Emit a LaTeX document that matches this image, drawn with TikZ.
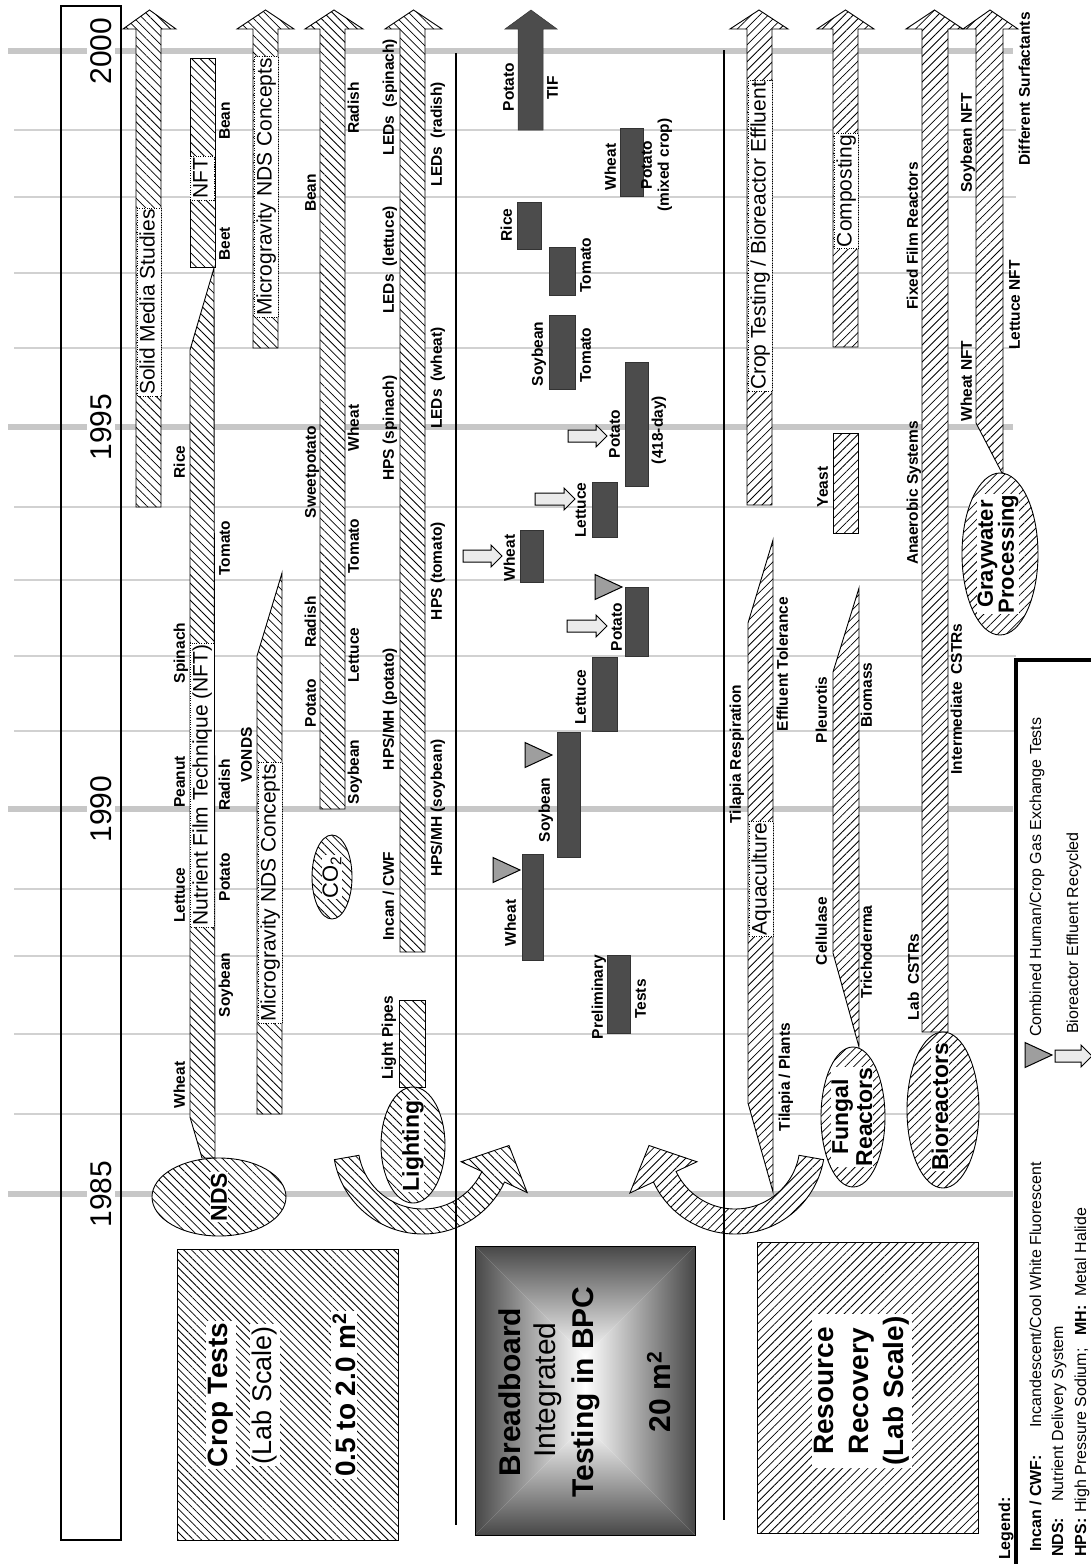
\documentclass[tikz,border=0pt]{standalone}
\usepackage{fontspec}
\setmainfont{Liberation Sans}
\usetikzlibrary{patterns.meta,shapes.geometric}
\tikzset{
  gl/.style={draw=black!18, line width=2pt},
  gy/.style={draw=black!22, line width=6pt},
  hb/.style={draw=black, line width=0.9pt, preaction={fill=white}, pattern={Lines[angle=-45,distance=6pt,line width=0.8pt]}},
  hf/.style={draw=black, line width=0.9pt, preaction={fill=white}, pattern={Lines[angle=45,distance=6pt,line width=0.8pt]}},
  dk/.style={fill=black!70, draw=black!80, line width=0.5pt},
  tri/.style={fill=black!38, draw=black, line width=1pt},
  eff/.style={fill=black!8, draw=black, line width=1pt},
  lab/.style={rotate=90, inner sep=0pt, font=\fontsize{15.5}{17}\selectfont\bfseries, text height=11pt, text depth=3.5pt},
  bt/.style={rotate=90, fill=white, draw=black, dotted, line width=0.4pt, inner sep=1.5pt, font=\fontsize{21}{24}\selectfont, text height=16pt, text depth=5pt},
  et/.style={rotate=90, fill=white, inner sep=0.5pt, align=center, font=\fontsize{23}{24}\selectfont\bfseries},
  yr/.style={rotate=90, fill=white, inner sep=3pt, font=\fontsize{30}{30}\selectfont, text height=21.5pt, text depth=0pt},
  bigtxt/.style={rotate=90, fill=white, inner sep=2pt},
  leg/.style={rotate=90, inner sep=0pt, anchor=west, font=\fontsize{16}{18}\selectfont, text height=11.5pt, text depth=3.5pt},
}
\newcommand\myUp[6]{\draw[#1] (#2,#4) -- (#2,29) -- (#5,29) -- ({(#5+#6)/2},10) -- (#6,29) -- (#3,29) -- (#3,#4) -- cycle;}
\newcommand\myEff[3]{\draw[eff] (#1,{#2-6}) -- ({#3-11},{#2-6}) -- ({#3-11},{#2-11}) -- (#3,#2) -- ({#3-11},{#2+11}) -- ({#3-11},{#2+6}) -- (#1,{#2+6}) -- cycle;}
\newcommand\myTri[2]{\draw[tri] (#1,{#2-12.5}) -- ({#1+27},#2) -- (#1,{#2+12.5}) -- cycle;}
\begin{document}
\begin{tikzpicture}[x=1pt,y=-1pt]
\useasboundingbox (0,0) rectangle (1091,1564);
% grid lines
\foreach \yy in {130,197,273,348,507,580,656,731,889,956,1034,1114} \draw[gl] (14,\yy) -- (1016,\yy);
\foreach \yy in {51,427,809,1194} \draw[gy] (8,\yy) -- (1013,\yy);
% header
\draw[line width=2pt] (61,6) rectangle (121,1540);
\node[yr] (y2000) at (101,51) {2000};
\node[yr] (y1995) at (101,427) {1995};
\node[yr] (y1990) at (101,809) {1990};
\node[yr] (y1985) at (101,1194) {1985};

% ---------- left block (crop tests) ----------
\myUp{hb}{136}{161}{507}{123}{176}
\node[bt] (sms) at (149,302) {Solid Media Studies};
\draw[hb] (190,58) rectangle (215,267);
\node[bt] (nftb) at (202,178) {NFT};
\draw[hb] (190,350) -- (214,268) -- (215,1158) -- (202,1158) -- (190,1117) -- cycle;
\node[bt] (nft) at (202,785) {Nutrient Film Technique (NFT)};
\myUp{hb}{253}{278}{348}{237}{294}
\node[bt] (mg1) at (266,187) {Microgravity NDS Concepts};
\draw[hb] (257,1114) -- (257,656) -- (282,573) -- (282,1114) -- cycle;
\node[bt] (mg2) at (270,893) {Microgravity NDS Concepts};
\myUp{hb}{320}{345}{809}{305}{363}
\myUp{hb}{400}{425}{952}{385}{442}
\draw[hb] (399,1000) rectangle (425,1087);
\node[hb, ellipse, minimum width=134pt, minimum height=78pt, inner sep=0pt] (nds) at (219,1197) {};
\node[et] (ndsT) at (219,1197) {NDS};
\node[hb, ellipse, minimum width=40pt, minimum height=84pt, inner sep=0pt] (co2) at (332,877) {};
\node[et, font=\fontsize{22}{24}\selectfont] (co2T) at (332,877) {CO\textsubscript{2}};
% left curved arrow
\path[hb] plot[domain=25:170, samples=50] ({423+90*cos(195-\x)},{1144+90*sin(195-\x)})
  -- ({423+115*cos(25)},{1144+115*sin(25)}) -- ({423+86*cos(1)},{1144+86*sin(1)})
  -- ({423+42*cos(25)},{1144+42*sin(25)})
  -- plot[domain=25:170, samples=50] ({423+65*cos(\x)},{1144+65*sin(\x)}) -- cycle;
\node[hb, ellipse, minimum width=64pt, minimum height=116pt, inner sep=0pt] (lig) at (413,1145) {};
\node[et] (ligT) at (413,1146) {Lighting};
% crop tests box
\draw[draw=black, line width=1pt, preaction={fill=white}, pattern={Lines[angle=-45,distance=5.5pt,line width=0.8pt]}] (177,1249) rectangle (398,1540);
\node[bigtxt, font=\fontsize{28}{30}\selectfont\bfseries] (ct1) at (221,1395) {Crop Tests};
\node[bigtxt, font=\fontsize{27}{30}\selectfont] (ct2) at (265,1395) {(Lab Scale)};
\node[bigtxt, font=\fontsize{28}{30}\selectfont\bfseries] (ct3) at (344,1395) {0.5 to 2.0 m\textsuperscript{2}};

% labels NFT column
\node[lab] (a1) at (181,462) {Rice};
\node[lab] (a2) at (181,653) {Spinach};
\node[lab] (a3) at (181,782) {Peanut};
\node[lab] (a4) at (181,895) {Lettuce};
\node[lab] (a5) at (181,1085) {Wheat};
\node[lab] (b1) at (226,121) {Bean};
\node[lab] (b2) at (226,244) {Beet};
\node[lab] (b3) at (226,548) {Tomato};
\node[lab] (b4) at (226,785) {Radish};
\node[lab] (b5) at (226,877) {Potato};
\node[lab] (b6) at (226,985) {Soybean};
\node[lab] (vonds) at (248,755) {VONDS};
% labels sweetpotato column
\node[lab] (c1) at (312,193) {Bean};
\node[lab] (c2) at (312,472) {Sweetpotato};
\node[lab] (c3) at (312,622) {Radish};
\node[lab] (c4) at (312,703) {Potato};
\node[lab] (d1) at (355,108) {Radish};
\node[lab] (d2) at (355,428) {Wheat};
\node[lab] (d3) at (355,546) {Tomato};
\node[lab] (d4) at (355,655) {Lettuce};
\node[lab] (d5) at (355,772) {Soybean};
% labels lighting column
\node[lab] (e1) at (390,97) {LEDs\hspace{0.5em}(spinach)};
\node[lab] (e2) at (390,260) {LEDs\hspace{0.5em}(lettuce)};
\node[lab] (e3) at (390,428) {HPS (spinach)};
\node[lab] (e4) at (390,709) {HPS/MH (potato)};
\node[lab] (e5) at (390,896) {Incan / CWF};
\node[lab] (e6) at (389,1038) {Light Pipes};
\node[lab] (f1) at (438,134) {LEDs\hspace{0.5em}(radish)};
\node[lab] (f2) at (438,378) {LEDs\hspace{0.5em}(wheat)};
\node[lab] (f3) at (438,571) {HPS (tomato)};
\node[lab] (f4) at (438,808) {HPS/MH (soybean)};

% ---------- middle block (breadboard) ----------
\draw[dk] (518,130) -- (518,29) -- (505,29) -- (531,10) -- (557,29) -- (543,29) -- (543,130) -- cycle;
\node[lab] (g1) at (510,87) {Potato};
\node[lab] (g2) at (554,88) {TIF};
\draw[dk] (620,128) rectangle (643,196);
\node[lab] (g3) at (612,167) {Wheat};
\node[lab, align=center] (g4) at (665,165) {Potato\\(mixed crop)};
\draw[dk] (517,202) rectangle (541,249);
\node[lab] (g5) at (508,225) {Rice};
\draw[dk] (549,247) rectangle (575,295);
\node[lab] (g6) at (587,265) {Tomato};
\draw[dk] (549,315) rectangle (575,389);
\node[lab] (g7) at (539,354) {Soybean};
\node[lab] (g8) at (587,355) {Tomato};
\draw[dk] (625,362) rectangle (648,486);
\node[lab] (g9) at (616,434) {Potato};
\node[lab] (g10) at (659,430) {(418-day)};
\draw[dk] (592,482) rectangle (617,537);
\node[lab] (g11) at (582,510) {Lettuce};
\draw[dk] (520,530) rectangle (543,582);
\node[lab] (g12) at (511,558) {Wheat};
\draw[dk] (625,587) rectangle (648,656);
\node[lab] (g13) at (618,627) {Potato};
\draw[dk] (592,657) rectangle (617,731);
\node[lab] (g14) at (582,697) {Lettuce};
\draw[dk] (557,732) rectangle (580,857);
\node[lab] (g15) at (546,810) {Soybean};
\draw[dk] (522,854) rectangle (543,960);
\node[lab] (g16) at (512,923) {Wheat};
\draw[dk] (607,955) rectangle (630,1033);
\node[lab] (g17) at (599,997) {Preliminary};
\node[lab] (g18) at (642,999) {Tests};
\myTri{493}{870}
\myTri{525}{755}
\myTri{595}{587}
\myEff{463}{556}{502}
\myEff{568}{436}{607}
\myEff{535}{499}{575}
\myEff{567}{626}{607}
% breadboard box
\shade[left color=black!72, right color=white] (475,1246) -- (585,1356) -- (585,1425) -- (475,1535) -- cycle;
\shade[left color=white, right color=black!72] (695,1246) -- (585,1356) -- (585,1425) -- (695,1535) -- cycle;
\shade[top color=black!72, bottom color=white] (475,1246) -- (695,1246) -- (585,1356) -- cycle;
\shade[top color=white, bottom color=black!72] (475,1535) -- (695,1535) -- (585,1425) -- cycle;
\draw[line width=1pt] (475,1246) rectangle (695,1535);
\node[rotate=90, font=\fontsize{30}{32}\selectfont\bfseries] (bb1) at (510,1392) {Breadboard};
\node[rotate=90, font=\fontsize{30}{32}\selectfont] (bb2) at (548,1390) {Integrated};
\node[rotate=90, font=\fontsize{30}{32}\selectfont\bfseries] (bb3) at (586,1392) {Testing in BPC};
\node[rotate=90, font=\fontsize{30}{32}\selectfont\bfseries] (bb4) at (659,1392) {20 m\textsuperscript{2}};

% ---------- right block (resource recovery) ----------
\myUp{hf}{747}{772}{505}{730}{788}
\node[bt] (ctb) at (760,236) {Crop Testing / Bioreactor Effluent};
\myUp{hf}{833}{858}{347}{817}{874}
\node[bt] (comp) at (846,191) {Composting};
\draw[hf] (833,433) rectangle (858,533);
\draw[hf] (748,623) -- (773,540) -- (773,1192) -- (748,1103) -- cycle;
\node[bt] (aqua) at (761,879) {Aquaculture};
\draw[hf] (833,672) -- (859,588) -- (859,1047) -- (833,953) -- cycle;
\myUp{hf}{922}{948}{1032}{906}{963}
\draw[hf] (976,423) -- (976,29) -- (963,29) -- (990,10) -- (1018,29) -- (1003,29) -- (1003,473) -- (1002,473) -- cycle;
% right curved arrow
\path[hf] plot[domain=10:155, samples=50] ({735+90*cos(\x)},{1144+90*sin(\x)})
  -- ({735+116*cos(155)},{1144+116*sin(155)}) -- ({735+86*cos(179)},{1144+86*sin(179)})
  -- ({735+42*cos(155)},{1144+42*sin(155)})
  -- plot[domain=10:155, samples=50] ({735+65*cos(165-\x)},{1144+65*sin(165-\x)}) -- cycle;
\node[hf, ellipse, minimum width=64pt, minimum height=140pt, inner sep=0pt] (fun) at (853,1117) {};
\node[et] (funT) at (852,1117) {Fungal\\Reactors};
\node[hf, ellipse, minimum width=72pt, minimum height=156pt, inner sep=0pt] (bio) at (943,1110) {};
\node[et] (bioT) at (940,1107) {Bioreactors};
\node[hf, ellipse, minimum width=76pt, minimum height=162pt, inner sep=0pt] (gw) at (1000,554) {};
\node[et, font=\fontsize{22}{21}\selectfont\bfseries] (gwT) at (998,554) {Graywater\\Processing};
% resource box
\draw[hf] (757,1242) rectangle (978,1533);
\node[bigtxt, align=center, font=\fontsize{28}{35}\selectfont\bfseries] (rr) at (862,1391) {Resource\\Recovery\\(Lab Scale)};
% right labels
\node[lab] (h1) at (737,754) {Tilapia Respiration};
\node[lab] (h2) at (784,664) {Effluent Tolerance};
\node[lab] (h3) at (786,1077) {Tilapia / Plants};
\node[lab] (h4) at (823,710) {Pleurotis};
\node[lab] (h5) at (823,931) {Cellulase};
\node[lab] (h6) at (868,695) {Biomass};
\node[lab] (h7) at (868,952) {Trichoderma};
\node[lab] (h8) at (824,487) {Yeast};
\node[lab] (h9) at (914,236) {Fixed Film Reactors};
\node[lab] (h10) at (914,493) {Anaerobic Systems};
\node[lab] (h11) at (915,977) {Lab\hspace{0.5em}CSTRs};
\node[lab] (h12) at (958,699) {Intermediate\hspace{0.5em}CSTRs};
\node[lab] (h13) at (968,143) {Soybean NFT};
\node[lab] (h14) at (968,381) {Wheat NFT};
\node[lab] (h15) at (1026,89) {Different Surfactants};
\node[lab] (h16) at (1016,305) {Lettuce NFT};

% separators
\draw[line width=1.5pt] (456,53) -- (456,1525);
\draw[line width=1.5pt] (724,50) -- (724,1520);

% legend
\draw[line width=4pt] (1016,1570) -- (1016,660) -- (1100,660);
\myTri{1025}{1055}
\myEff{1055}{1056}{1092}
\node[leg] (lc) at (1037,1037) {Combined Human/Crop Gas Exchange Tests};
\node[leg] (lb) at (1074,1034) {Bioreactor Effluent Recycled};
\node[leg, font=\fontsize{16}{18}\selectfont\bfseries] (lg) at (1006,1560) {Legend:};
\node[leg, font=\fontsize{16}{18}\selectfont\bfseries] (l1a) at (1037,1552) {Incan / CWF:};
\node[leg] (l1b) at (1037,1428) {Incandescent/Cool White Fluorescent};
\node[leg, font=\fontsize{16}{18}\selectfont\bfseries] (l2a) at (1059,1557) {NDS:};
\node[leg] (l2b) at (1059,1502) {Nutrient Delivery System};
\node[leg, font=\fontsize{16}{18}\selectfont\bfseries] (l3a) at (1082,1557) {HPS:};
\node[leg] (l3b) at (1082,1513) {High Pressure Sodium;};
\node[leg, font=\fontsize{16}{18}\selectfont\bfseries] (l3c) at (1082,1336) {MH:};
\node[leg] (l3d) at (1082,1297) {Metal Halide};
\end{tikzpicture}
\end{document}
